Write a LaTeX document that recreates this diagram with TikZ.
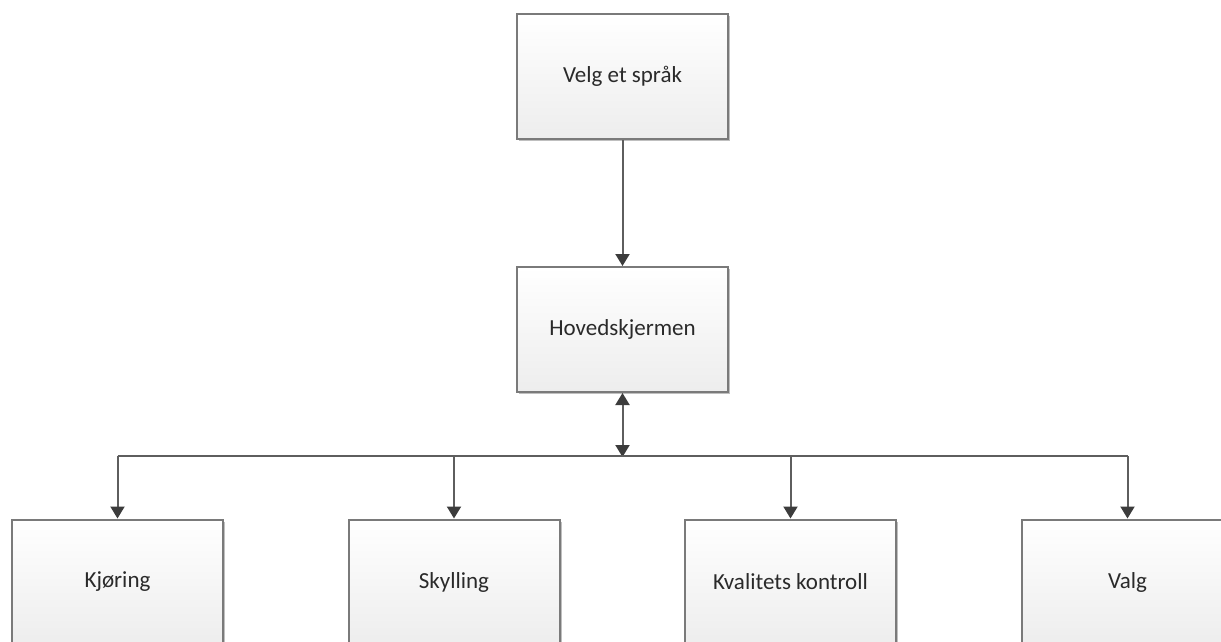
\documentclass[tikz,border=0pt]{standalone}
\usepackage{fontspec}
\setmainfont{Carlito}
\usetikzlibrary{arrows.meta,shadows}
\definecolor{edgegray}{HTML}{7A7A7A}
\definecolor{linegray}{HTML}{5E5E5E}
\definecolor{tipgray}{HTML}{3C3C3C}
\definecolor{boxbottom}{HTML}{EDEDED}
\definecolor{textdark}{HTML}{2A2A2A}
\tikzset{
  screen/.style={
    draw=edgegray, line width=2pt, rectangle,
    top color=white, bottom color=boxbottom,
    minimum width=211pt, minimum height=125pt,
    inner sep=0pt, text=textdark,
    font=\fontsize{23pt}{27pt}\selectfont,
    drop shadow={shadow xshift=2pt, shadow yshift=-2pt, opacity=0.25, fill=black}
  },
  link/.style={draw=linegray, line width=2pt},
  tip/.style={-{Triangle[width=14pt,length=12pt,color=tipgray]}},
}
\begin{document}
\begin{tikzpicture}[x=1pt,y=-1pt]
  \useasboundingbox (0,0) rectangle (1221,641);
  \clip (0,0) rectangle (1221,641);
  % top of the hierarchy
  \node[screen] (lang) at (622.5,76.5) {Velg et språk};
  \node[screen] (main) at (622.5,329.5) {Hovedskjermen};
  % sub-screens, cut off by the lower edge
  \node[screen] (drive) at (117.5,582) {Kjøring};
  \node[screen] (rinse) at (454,582) {Skylling};
  \node[screen] (qc)    at (790.5,582) {Kvalitets kontroll};
  \node[screen] (opt)   at (1127.5,582) {Valg};
  % bus that distributes to the sub-screens
  \coordinate (hub) at (622.5,456);
  \coordinate (busL) at (drive.north |- hub);
  \coordinate (busR) at (opt.north |- hub);
  \draw[link, tip] (lang.south) -- (main.north);
  \draw[link, {Triangle[width=14pt,length=12pt,color=tipgray]}-{Triangle[width=14pt,length=12pt,color=tipgray]}, shorten >=-1pt] (main.south) -- (hub);
  \draw[link] (busL) -- (busR);
  \draw[link, tip] (busL) -- (drive.north);
  \draw[link, tip] (rinse.north |- hub) -- (rinse.north);
  \draw[link, tip] (qc.north |- hub) -- (qc.north);
  \draw[link, tip] (busR) -- (opt.north);
\end{tikzpicture}
\end{document}
